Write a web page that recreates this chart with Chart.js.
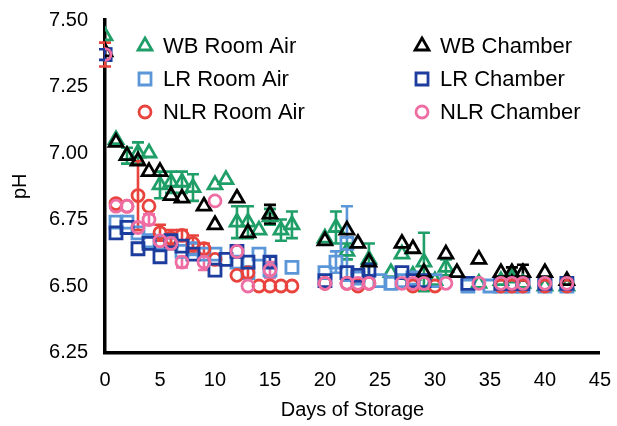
<!DOCTYPE html>
<html>
<head>
<meta charset="utf-8">
<script src="https://cdn.jsdelivr.net/npm/chart.js@4/dist/chart.umd.min.js"></script>
<style>
  html, body { margin: 0; padding: 0; background: #fff; }
  #wrap { width: 617px; height: 426px; }
</style>
</head>
<body>
<div id="wrap"><canvas id="c" width="617" height="426"></canvas></div>
<script>
// pH during storage, six storage groups
const xTicks = [0, 5, 10, 15, 20, 25, 30, 35, 40, 45];
const yTicks = [6.25, 6.50, 6.75, 7.00, 7.25, 7.50];

const wbRoomDays = [0, 1, 2, 3, 4, 5, 6, 7, 8, 10, 11, 12, 13, 14, 15, 16, 17, 20, 21, 22, 24, 26, 27, 28, 29, 30, 31, 34, 36, 37, 38, 40, 42];
const wbRoomPH   = [7.44, 7.05, 6.99, 7.00, 7.00, 6.88, 6.89, 6.89, 6.87, 6.88, 6.90, 6.74, 6.74, 6.71, 6.76, 6.71, 6.73, 6.68, 6.72, 6.63, 6.60, 6.55, 6.62, 6.54, 6.59, 6.52, 6.57, 6.51, 6.52, 6.53, 6.51, 6.50, 6.50];
const wbRoomErr  = [0, 0, 0.03, 0.04, 0, 0.05, 0.04, 0.04, 0.05, 0, 0, 0.06, 0.06, 0, 0.03, 0.04, 0.05, 0, 0.06, 0.03, 0.06, 0, 0, 0, 0.11, 0, 0.03, 0, 0, 0, 0, 0, 0];

const lrRoomDays = [0, 1, 2, 3, 4, 5, 6, 7, 8, 9, 10, 12, 13, 14, 15, 17, 20, 21, 22, 23, 25, 26, 27, 28, 30, 33, 35, 36, 37, 38, 40, 42];
const lrRoomPH   = [7.37, 6.74, 6.74, 6.70, 6.67, 6.66, 6.66, 6.63, 6.64, 6.62, 6.62, 6.59, 6.55, 6.62, 6.56, 6.57, 6.55, 6.59, 6.66, 6.53, 6.52, 6.51, 6.52, 6.53, 6.52, 6.50, 6.50, 6.50, 6.50, 6.50, 6.50, 6.50];
const lrRoomErr  = [0, 0, 0, 0, 0, 0, 0.02, 0, 0.02, 0, 0, 0, 0, 0, 0, 0, 0, 0.04, 0.14, 0, 0, 0, 0, 0, 0, 0, 0, 0, 0, 0, 0, 0];

const nlrRoomDays = [0, 1, 2, 3, 4, 5, 6, 7, 8, 9, 10, 12, 13, 14, 15, 16, 17, 20, 22, 23, 24, 28, 29, 30, 36, 37, 38, 40, 42];
const nlrRoomPH   = [7.37, 6.81, 6.80, 6.84, 6.80, 6.70, 6.68, 6.69, 6.66, 6.64, 6.60, 6.54, 6.55, 6.50, 6.50, 6.50, 6.50, 6.51, 6.51, 6.50, 6.51, 6.50, 6.51, 6.50, 6.50, 6.50, 6.50, 6.50, 6.50];
const nlrRoomErr  = [0.045, 0, 0, 0.13, 0, 0.03, 0.03, 0.02, 0.03, 0.02, 0, 0, 0.02, 0, 0, 0, 0, 0, 0, 0, 0, 0, 0, 0, 0, 0, 0, 0, 0];

const wbChamberDays = [0, 1, 2, 3, 4, 5, 6, 7, 9, 10, 12, 13, 15, 20, 22, 23, 24, 27, 28, 29, 31, 32, 34, 36, 37, 38, 40, 42];
const wbChamberPH   = [7.38, 7.04, 6.99, 6.97, 6.93, 6.93, 6.84, 6.83, 6.80, 6.73, 6.83, 6.70, 6.77, 6.67, 6.71, 6.66, 6.59, 6.66, 6.64, 6.55, 6.62, 6.55, 6.60, 6.55, 6.55, 6.55, 6.55, 6.52];
const wbChamberErr  = [0, 0, 0, 0, 0, 0, 0, 0, 0, 0, 0, 0, 0.035, 0, 0, 0, 0, 0, 0, 0, 0, 0, 0, 0, 0.02, 0.03, 0, 0];

const lrChamberDays = [0, 1, 2, 3, 4, 5, 6, 7, 8, 10, 11, 12, 13, 15, 20, 22, 23, 24, 27, 28, 29, 33, 36, 37, 38, 40, 42];
const lrChamberPH   = [7.37, 6.70, 6.72, 6.64, 6.66, 6.61, 6.67, 6.65, 6.62, 6.56, 6.60, 6.63, 6.59, 6.59, 6.52, 6.55, 6.54, 6.56, 6.55, 6.52, 6.52, 6.51, 6.51, 6.51, 6.51, 6.51, 6.51];
const lrChamberErr  = [0.02, 0, 0, 0, 0, 0, 0, 0, 0, 0, 0, 0, 0, 0.02, 0, 0, 0, 0.02, 0, 0, 0, 0, 0, 0, 0, 0, 0];

const nlrChamberDays = [0, 1, 2, 3, 4, 5, 6, 7, 9, 10, 12, 13, 15, 20, 22, 23, 24, 27, 28, 29, 31, 34, 36, 37, 38, 40, 42];
const nlrChamberPH   = [7.37, 6.80, 6.80, 6.72, 6.75, 6.67, 6.66, 6.59, 6.59, 6.82, 6.63, 6.50, 6.56, 6.51, 6.51, 6.51, 6.51, 6.51, 6.51, 6.51, 6.51, 6.51, 6.51, 6.51, 6.51, 6.51, 6.51];
const nlrChamberErr  = [0, 0, 0, 0, 0.02, 0, 0, 0.02, 0.03, 0, 0, 0, 0.03, 0, 0, 0, 0, 0, 0, 0, 0, 0, 0, 0, 0, 0, 0];

const GREEN = '#1f9e68', LBLUE = '#5b97d8', RED = '#e8433d', BLACK = '#000000', NAVY = '#1c3c9e', PINK = '#ee6ea3';
const FONT = "'Liberation Sans', Arial, Helvetica, sans-serif";

function pts(days, vals) { return days.map((d, i) => ({ x: d, y: vals[i] })); }

function series(label, days, vals, errs, color, style, radius, order) {
  return {
    label, data: pts(days, vals), errors: errs,
    showLine: false, pointStyle: style, pointRadius: radius, pointHoverRadius: radius,
    borderColor: color, backgroundColor: 'rgba(255,255,255,0)', pointBorderWidth: 2.8,
    order
  };
}

const datasets = [
  series('NLR Chamber', nlrChamberDays, nlrChamberPH, nlrChamberErr, PINK, 'circle', 6, 0),
  series('WB Chamber', wbChamberDays, wbChamberPH, wbChamberErr, BLACK, 'triangle', 8, 1),
  series('LR Chamber', lrChamberDays, lrChamberPH, lrChamberErr, NAVY, 'rect', 8.5, 2),
  series('NLR Room Air', nlrRoomDays, nlrRoomPH, nlrRoomErr, RED, 'circle', 6, 3),
  series('LR Room Air', lrRoomDays, lrRoomPH, lrRoomErr, LBLUE, 'rect', 8.5, 4),
  series('WB Room Air', wbRoomDays, wbRoomPH, wbRoomErr, GREEN, 'triangle', 8, 5)
];

// Vertical error bars with caps, drawn under the markers
const errorBars = {
  id: 'errorBars',
  beforeDatasetsDraw(chart) {
    const { ctx, scales: { x, y } } = chart;
    ctx.save();
    ctx.lineWidth = 2.6;
    for (let di = chart.data.datasets.length - 1; di >= 0; di--) {
      const ds = chart.data.datasets[di];
      ctx.strokeStyle = ds.borderColor;
      ds.data.forEach((p, i) => {
        const e = ds.errors[i];
        if (!e) return;
        const px = x.getPixelForValue(p.x);
        const top = y.getPixelForValue(p.y + e);
        const bot = y.getPixelForValue(p.y - e);
        ctx.beginPath();
        ctx.moveTo(px, top); ctx.lineTo(px, bot);
        ctx.moveTo(px - 6, top); ctx.lineTo(px + 6, top);
        ctx.moveTo(px - 6, bot); ctx.lineTo(px + 6, bot);
        ctx.stroke();
      });
    }
    ctx.restore();
  }
};

// Two-column key inside the plot area
const keyOrder = ['WB Room Air', 'LR Room Air', 'NLR Room Air', 'WB Chamber', 'LR Chamber', 'NLR Chamber'];
const insideKey = {
  id: 'insideKey',
  afterDraw(chart) {
    const { ctx, chartArea } = chart;
    ctx.save();
    ctx.font = '22px ' + FONT;
    ctx.textBaseline = 'middle';
    keyOrder.forEach((name, k) => {
      const ds = chart.data.datasets.find(d => d.label === name);
      const col = Math.floor(k / 3), row = k % 3;
      const mx = chartArea.left + 40 + col * 277;
      const my = chartArea.top + 26 + row * 33;
      ctx.strokeStyle = ds.borderColor;
      ctx.fillStyle = 'rgba(255,255,255,0)';
      ctx.lineWidth = 2.8;
      Chart.helpers.drawPoint(ctx, { pointStyle: ds.pointStyle, radius: ds.pointRadius, borderWidth: 2.8 }, mx, my);
      ctx.fillStyle = '#000';
      ctx.fillText(name, mx + 18, my + 1);
    });
    ctx.restore();
  }
};

new Chart(document.getElementById('c'), {
  type: 'scatter',
  data: { datasets },
  options: {
    responsive: false,
    animation: false,
    devicePixelRatio: 1,
    layout: { padding: { top: 20, right: 17, left: 0, bottom: 0 } },
    plugins: { legend: { display: false }, tooltip: { enabled: false } },
    scales: {
      x: {
        type: 'linear', min: 0, max: 45,
        afterBuildTicks(s) { s.ticks = xTicks.map(v => ({ value: v })); },
        afterFit(s) { s.height = 73.5; },
        grid: { display: false, drawOnChartArea: false, drawTicks: true, tickLength: 10, tickWidth: 3, tickColor: '#000' },
        border: { display: true, color: '#000', width: 3.5 },
        ticks: { color: '#000', font: { family: FONT, size: 20 }, padding: 6, maxRotation: 0 },
        title: { display: true, text: 'Days of Storage', color: '#000', font: { family: FONT, size: 20 }, padding: { top: 8 } }
      },
      y: {
        type: 'linear', min: 6.25, max: 7.5,
        afterBuildTicks(s) { s.ticks = yTicks.map(v => ({ value: v })); },
        afterFit(s) { s.width = 105; },
        grid: { display: false, drawOnChartArea: false, drawTicks: true, tickLength: 10, tickWidth: 3, tickColor: '#000' },
        border: { display: true, color: '#000', width: 3.5 },
        ticks: { color: '#000', font: { family: FONT, size: 20 }, padding: 7, callback: v => v.toFixed(2) },
        title: { display: true, text: 'pH', color: '#000', font: { family: FONT, size: 20 }, padding: { top: 8, bottom: 4 } }
      }
    }
  },
  plugins: [errorBars, insideKey]
});
</script>
</body>
</html>
